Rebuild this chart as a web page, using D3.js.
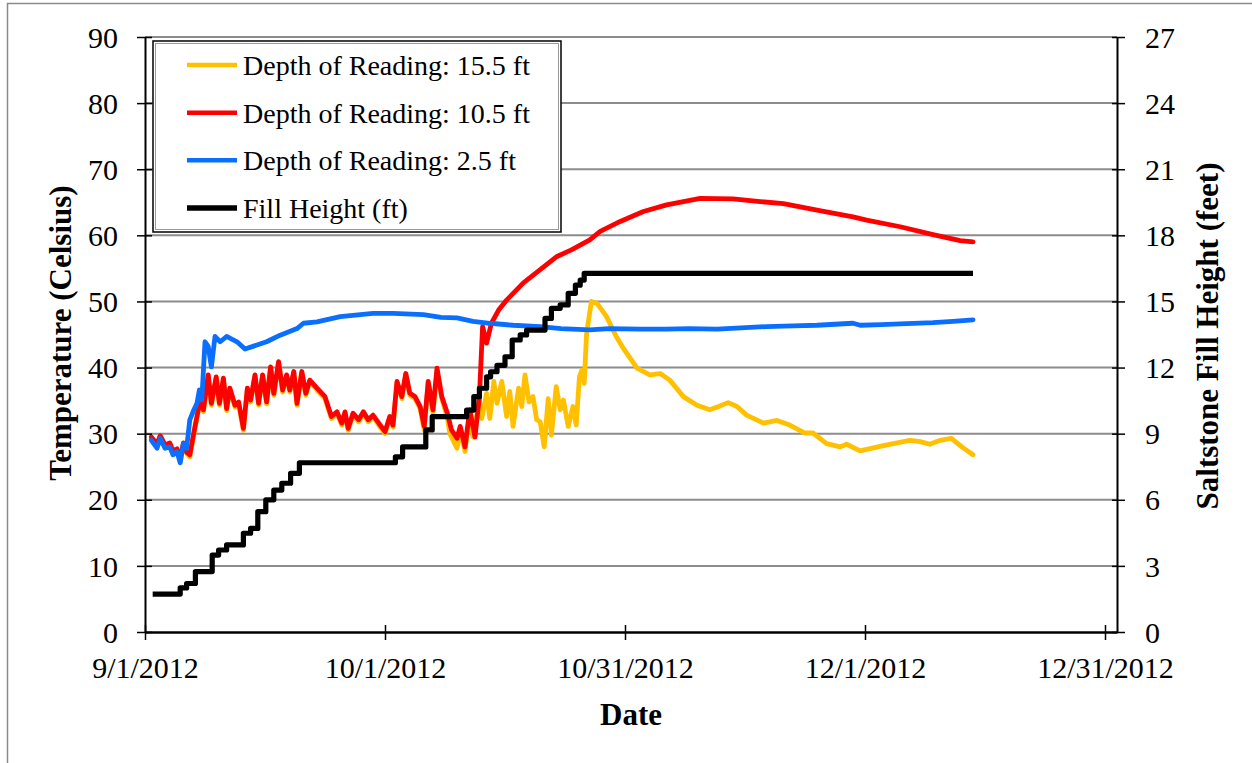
<!DOCTYPE html>
<html><head><meta charset="utf-8">
<script src="https://cdn.jsdelivr.net/npm/d3@7"></script>
<style>
body{margin:0;background:#fff}
svg{display:block}
text{font-family:"Liberation Serif","Times New Roman",serif;fill:#000}
</style>
</head><body>
<svg id="c" width="1252" height="763"></svg>
<script>
// ---- data (x = days since 9/1/2012) ----
const xTickDays = [0, 30, 60, 90, 120];
const xTickLabels = ["9/1/2012", "10/1/2012", "10/31/2012", "12/1/2012", "12/31/2012"];
const leftTicks = [0, 10, 20, 30, 40, 50, 60, 70, 80, 90];
const rightTicks = [0, 3, 6, 9, 12, 15, 18, 21, 24, 27];
const seriesNames = ["Depth of Reading: 15.5 ft", "Depth of Reading: 10.5 ft", "Depth of Reading: 2.5 ft", "Fill Height (ft)"];
const seriesColors = ["#FFC000", "#FF0000", "#0A6EFF", "#000000"];

const depth155 = [[0.8,29.3],[1.5,28.0],[1.9,29.6],[2.5,28.0],[3.1,28.3],[3.5,27.1],[4.0,27.5],[4.4,25.9],[4.8,28.4],[5.2,27.0],[5.6,26.5],[6.25,30.8],[6.9,35.0],[7.3,33.3],[7.9,38.8],[8.3,34.3],[8.9,38.5],[9.3,34.3],[9.8,38.3],[10.2,33.5],[10.6,36.8],[11.25,34.0],[11.7,34.6],[12.3,30.5],[12.8,36.8],[13.2,34.8],[13.75,38.8],[14.2,34.3],[14.7,38.8],[15.2,34.5],[15.7,40.0],[16.1,35.8],[16.7,40.8],[17.2,36.3],[17.7,38.8],[18.1,36.3],[18.6,39.3],[19.0,34.3],[19.6,39.3],[20.1,35.8],[20.6,38.0],[21.5,36.6],[22.5,35.3],[23.3,32.3],[24.0,33.1],[24.6,31.3],[25.0,33.1],[25.4,30.5],[26.0,32.9],[26.7,31.8],[27.3,33.1],[27.9,31.8],[28.5,32.6],[29.4,31.0],[30.0,30.0],[30.6,32.4],[31.0,31.0],[31.5,37.8],[32.1,35.3],[32.6,39.0],[33.1,35.8],[33.75,35.3],[34.4,33.8],[34.9,30.6],[35.4,37.7],[36.0,33.2],[36.5,39.6],[37.1,35.3],[37.8,32.4],[38.1,30.0],[39.0,27.8],[39.5,30.3],[40.0,27.3],[40.6,33.1],[41.0,29.5],[41.8,35.1],[42.1,32.3],[42.7,36.1],[43.1,32.3],[43.6,37.9],[44.0,34.6],[44.6,37.9],[45.2,32.6],[45.6,36.4],[46.0,31.1],[46.7,36.9],[47.1,34.1],[47.5,38.9],[48.0,34.8],[48.5,35.6],[48.96,32.1],[49.4,31.8],[49.9,28.0],[50.4,35.3],[50.8,29.8],[51.4,37.1],[51.9,33.6],[52.3,35.1],[52.9,31.1],[53.5,34.1],[53.9,31.3],[54.3,38.6],[54.6,39.6],[54.9,37.6],[55.2,45.2],[55.8,50.0],[56.5,49.7],[57.7,47.7],[58.9,44.7],[59.8,42.9],[61.5,39.9],[63.1,38.9],[64.4,39.1],[65.6,38.1],[67.3,35.6],[69.0,34.3],[70.6,33.6],[71.7,34.1],[72.9,34.7],[74.0,34.1],[75.2,32.8],[77.3,31.6],[79.0,32.0],[80.6,31.3],[82.5,30.1],[83.5,30.1],[85.2,28.5],[86.9,28.0],[87.7,28.4],[89.4,27.4],[92.3,28.2],[95.6,29.0],[96.9,28.8],[98.1,28.4],[99.4,29.0],[100.8,29.3],[102.1,28.0],[103.5,26.8]];

const depth105 = [[0.8,29.5],[1.5,28.4],[1.9,29.7],[2.5,28.3],[3.1,28.6],[3.5,27.4],[4.0,27.7],[4.4,26.2],[4.8,28.6],[5.2,27.2],[5.6,26.8],[6.25,31.1],[6.9,35.1],[7.3,33.6],[7.9,38.9],[8.3,34.6],[8.9,38.6],[9.3,34.6],[9.8,38.4],[10.2,33.8],[10.6,36.9],[11.25,34.3],[11.7,34.8],[12.3,30.8],[12.8,36.9],[13.2,35.1],[13.75,38.9],[14.2,34.6],[14.7,38.9],[15.2,34.8],[15.7,40.1],[16.1,36.1],[16.7,40.9],[17.2,36.6],[17.7,38.9],[18.1,36.6],[18.6,39.4],[19.0,34.6],[19.6,39.4],[20.1,36.1],[20.6,38.1],[21.5,36.9],[22.5,35.6],[23.3,32.6],[24.0,33.3],[24.6,31.6],[25.0,33.3],[25.4,30.8],[26.0,33.1],[26.7,32.1],[27.3,33.3],[27.9,32.1],[28.5,32.8],[29.4,31.3],[30.0,30.3],[30.6,32.6],[31.0,31.3],[31.5,37.9],[32.1,35.6],[32.6,39.1],[33.1,36.1],[33.75,35.6],[34.4,34.1],[34.9,31.1],[35.4,37.9],[36.0,33.6],[36.5,39.9],[37.1,35.6],[37.8,33.1],[38.3,30.6],[39.0,29.3],[39.4,31.1],[40.0,28.0],[40.6,33.6],[41.25,29.5],[41.8,35.6],[42.2,46.2],[42.7,43.7],[43.3,46.7],[44.2,48.7],[45.2,50.2],[47.3,52.8],[49.4,54.8],[51.5,56.8],[53.3,57.8],[55.6,59.3],[56.9,60.6],[59.4,62.1],[62.3,63.6],[65.2,64.6],[69.4,65.6],[73.5,65.5],[76.9,65.1],[79.8,64.8],[84.0,63.8],[88.5,62.8],[90.2,62.3],[94.4,61.3],[98.5,60.1],[101.9,59.2],[103.5,59.0]];

const depth25 = [[0.8,29.0],[1.5,27.8],[1.9,29.3],[2.5,27.8],[3.1,28.0],[3.5,26.8],[4.0,27.3],[4.4,25.6],[4.8,28.5],[5.2,27.8],[5.6,32.1],[6.0,33.3],[6.5,34.6],[6.8,36.6],[7.1,35.1],[7.5,43.9],[7.9,43.2],[8.3,40.1],[8.75,44.7],[9.4,43.9],[10.2,44.7],[11.5,43.9],[12.5,42.8],[13.5,43.2],[15.2,43.9],[16.9,44.9],[19.0,45.9],[19.8,46.7],[21.5,46.9],[24.4,47.7],[28.5,48.2],[31.0,48.2],[34.8,48.0],[37.0,47.6],[39.0,47.5],[41.0,47.0],[43.1,46.7],[46.0,46.4],[49.4,46.2],[52.0,45.9],[55.6,45.7],[58.0,45.9],[61.9,45.8],[65.2,45.8],[68.0,45.9],[71.5,45.8],[74.5,46.0],[77.7,46.2],[81.0,46.3],[84.0,46.4],[88.5,46.7],[89.4,46.4],[92.0,46.5],[94.4,46.6],[98.5,46.8],[101.0,47.0],[103.5,47.2]];

const fillHeight = [[0.96,1.72],[4.4,2.0],[5.2,2.2],[6.3,2.74],[8.4,3.49],[9.2,3.72],[10.2,3.95],[12.3,4.48],[13.2,4.7],[14.1,5.46],[15.1,6.0],[16.1,6.44],[17.1,6.75],[18.2,7.2],[19.3,7.68],[31.3,7.95],[32.2,8.4],[35.1,9.17],[35.9,9.77],[40.2,10.07],[41.1,10.68],[41.8,11.06],[42.7,11.58],[43.2,11.81],[44.0,12.1],[45.0,12.49],[45.9,13.25],[46.9,13.48],[47.7,13.7],[50.0,14.23],[50.8,14.69],[51.9,14.84],[52.9,15.37],[53.8,15.74],[54.4,15.97],[54.9,16.27],[103.5,16.27]];

// ---- drawing ----
const svg = d3.select("#c");
const L = 145, R = 1117, T = 37, B = 632;
const FONT = '"Liberation Serif","Times New Roman",serif';
const x = d3.scaleLinear().domain([0, 121.5]).range([L, R]);
const yL = d3.scaleLinear().domain([0, 90]).range([B, T]);
const yR = d3.scaleLinear().domain([0, 27]).range([B, T]);

// outer chart border
svg.append("rect").attr("x", 7.5).attr("y", 3.5).attr("width", 1260).attr("height", 800)
  .attr("fill", "none").attr("stroke", "#8a8a8a").attr("stroke-width", 1.5);

// gridlines
svg.append("g").selectAll("line").data(leftTicks.filter(d => d > 0)).join("line")
  .attr("x1", L).attr("x2", R).attr("y1", d => yL(d)).attr("y2", d => yL(d))
  .attr("stroke", "#8c8c8c").attr("stroke-width", 2);

// series
const lineL = d3.line().x(d => x(d[0])).y(d => yL(d[1])).curve(d3.curveLinear);
const lineR = d3.line().x(d => x(d[0])).y(d => yR(d[1])).curve(d3.curveStepAfter);
const temps = [depth155, depth105, depth25];
temps.forEach((s, i) => {
  svg.append("path").datum(s).attr("d", lineL).attr("fill", "none")
    .attr("stroke", seriesColors[i]).attr("stroke-width", 4.8)
    .attr("stroke-linejoin", "round").attr("stroke-linecap", "round");
});
svg.append("path").datum(fillHeight).attr("d", lineR).attr("fill", "none")
  .attr("stroke", seriesColors[3]).attr("stroke-width", 5.2).attr("stroke-linejoin", "round");

// axes
function styleAxis(g) {
  g.attr("font-family", FONT).attr("font-size", 30);
  g.selectAll(".tick text").attr("font-family", FONT).style("font-family", FONT).style("font-size", "30px");
}
const gl = svg.append("g").attr("transform", `translate(${L},0)`)
  .call(d3.axisLeft(yL).tickValues(leftTicks).tickSize(8).tickSizeOuter(0).tickPadding(19));
gl.selectAll(".tick line").attr("x1", 7).attr("stroke-width", 1.5);
gl.select(".domain").attr("stroke-width", 2);
styleAxis(gl);
gl.selectAll(".tick text").attr("dy", "0.34em");

const gr = svg.append("g").attr("transform", `translate(${R},0)`)
  .call(d3.axisRight(yR).tickValues(rightTicks).tickSize(8).tickSizeOuter(0).tickPadding(20));
gr.selectAll(".tick line").attr("x1", -5).attr("stroke-width", 1.5);
gr.select(".domain").attr("stroke-width", 2);
styleAxis(gr);
gr.selectAll(".tick text").attr("dy", "0.34em");

const gx = svg.append("g").attr("transform", `translate(0,${B})`)
  .call(d3.axisBottom(x).tickValues(xTickDays).tickFormat((d, i) => xTickLabels[i]).tickSize(8).tickSizeOuter(0));
gx.selectAll(".tick line").attr("y1", -7).attr("stroke-width", 1.5);
gx.select(".domain").attr("stroke-width", 2.5);
styleAxis(gx);
gx.selectAll(".tick text").attr("y", 46).attr("dy", 0);

// axis titles
svg.append("text").attr("x", 631).attr("y", 725).attr("text-anchor", "middle")
  .style("font-size", "31px").style("font-weight", "bold").text("Date");
svg.append("text").attr("transform", "translate(71,333) rotate(-90)").attr("text-anchor", "middle")
  .style("font-size", "31px").style("font-weight", "bold").text("Temperature (Celsius)");
svg.append("text").attr("transform", "translate(1218,336) rotate(-90)").attr("text-anchor", "middle")
  .style("font-size", "31px").style("font-weight", "bold").text("Saltstone Fill Height (feet)");

// legend
const lg = svg.append("g");
lg.append("rect").attr("x", 153).attr("y", 41).attr("width", 408).attr("height", 191)
  .attr("fill", "#fff").attr("stroke", "#000").attr("stroke-width", 1.5);
lg.append("rect").attr("x", 155.5).attr("y", 43.5).attr("width", 403).attr("height", 186)
  .attr("fill", "none").attr("stroke", "#999").attr("stroke-width", 1);
const rowY = d3.scaleLinear().domain([0, 3]).range([65, 208]);
seriesNames.forEach((n, i) => {
  lg.append("line").attr("x1", 187).attr("x2", 237).attr("y1", rowY(i)).attr("y2", rowY(i))
    .attr("stroke", seriesColors[i]).attr("stroke-width", i === 3 ? 5.5 : 4.5);
  lg.append("text").attr("x", 243).attr("y", rowY(i) + 10).style("font-size", "28px").text(n);
});
</script>
</body></html>
